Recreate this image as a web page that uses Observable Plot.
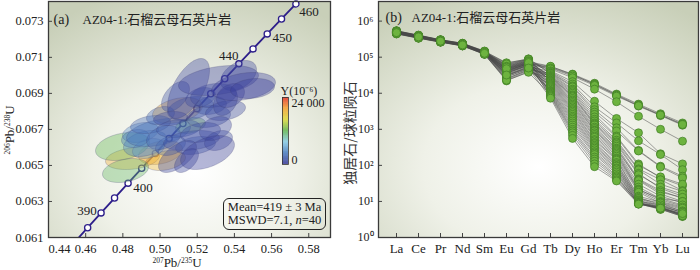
<!DOCTYPE html>
<html><head><meta charset="utf-8">
<script src="https://cdn.jsdelivr.net/npm/d3@7"></script>
<script src="https://cdn.jsdelivr.net/npm/@observablehq/plot@0.6"></script>
<style>
body{margin:0;background:#fff;}
#wrap{position:relative;width:700px;height:270px;overflow:hidden;font-family:"Liberation Serif","Noto Sans CJK SC",serif;color:#222}
#wrap svg{overflow:visible}
.abs{position:absolute;white-space:nowrap}
.rot{transform:translate(-50%,-50%) rotate(-90deg)}
.ctr{transform:translate(-50%,-50%)}
.sp{font-size:7.5px;position:relative;top:-4px}
</style></head><body>
<svg width="0" height="0" style="position:absolute">
<defs>
<radialGradient id="bgL" cx="0.52" cy="0.72" r="0.8">
<stop offset="0" stop-color="#ffffff"/><stop offset="0.45" stop-color="#eff1e8"/><stop offset="1" stop-color="#c8cfb8"/>
</radialGradient>
<radialGradient id="bgR" cx="0.5" cy="0.7" r="0.8">
<stop offset="0" stop-color="#ffffff"/><stop offset="0.45" stop-color="#eff1e8"/><stop offset="1" stop-color="#c8cfb8"/>
</radialGradient>
</defs>
</svg>
<div id="wrap">
<div id="left" class="abs" style="left:0;top:0"></div>
<div id="right" class="abs" style="left:350px;top:0"></div>
<div id="cbar" class="abs" style="left:278px;top:80px"></div>
<div class="abs rot" style="left:10px;top:130px;font-size:13px"><span class="sp">206</span>Pb/<span class="sp">238</span>U</div>
<div class="abs ctr" style="left:177px;top:263px;font-size:13px"><span class="sp">207</span>Pb/<span class="sp">235</span>U</div>
<div class="abs rot" style="left:349px;top:133px;font-size:14px;font-family:'Noto Sans CJK SC';color:#333">独居石/球粒陨石</div>
<div class="abs" style="left:223px;top:198px;width:103px;height:32px;box-sizing:border-box;border:1.3px solid #222;border-radius:6px;text-align:center;font-size:12.5px;line-height:13px;padding-top:2px">
<div style="height:13px">Mean=419 ± 3 Ma</div><div style="height:13px">MSWD=7.1, <i>n</i>=40</div></div>
</div>
<script>
// ---------- Panel (a): U-Pb concordia ----------
const concAge = [380,385,390,395,400,405,410,415,420,425,430,435,440,445,450,455,460];
const concX = [0.45389,0.46107,0.46828,0.47553,0.48281,0.49013,0.49749,0.50488,0.51231,0.51978,0.52728,0.53482,0.54239,0.55001,0.55766,0.56535,0.57308];
const concY = [0.060720,0.061543,0.062366,0.063191,0.064016,0.064841,0.065668,0.066494,0.067322,0.068150,0.068979,0.069808,0.070638,0.071469,0.072301,0.073132,0.073965];
const ageLabels = [460,450,440,400,390];

const ellX  = [0.51531,0.53145,0.54490,0.54221,0.52876,0.51638,0.52607,0.53521,0.50939,0.50563,0.49917,0.51638,0.50186,0.51692,0.52553,0.50939,0.49218,0.47981,0.48519,0.48142,0.50025,0.50294,0.49487,0.48949,0.52176,0.50993,0.52983,0.53521,0.52176,0.50832,0.54974,0.51908,0.49379,0.50563,0.51423,0.53790,0.52714,0.48680,0.53145,0.50025];
const ellSX = [0.01130,0.02152,0.01721,0.00968,0.01237,0.01237,0.01183,0.00646,0.01345,0.00914,0.01721,0.00807,0.00914,0.01506,0.01452,0.01022,0.01183,0.01452,0.01452,0.01237,0.01183,0.01076,0.01076,0.00968,0.01076,0.01183,0.00861,0.01076,0.00807,0.00753,0.01183,0.01076,0.00861,0.00807,0.00646,0.00753,0.00861,0.00753,0.00753,0.00753];
const ellY  = [0.069271,0.069715,0.069382,0.069993,0.068882,0.068161,0.067717,0.068549,0.068050,0.067606,0.066829,0.067217,0.066551,0.066384,0.065718,0.065496,0.066218,0.066051,0.065385,0.064719,0.065718,0.065274,0.067273,0.066829,0.066829,0.067051,0.067051,0.068050,0.068771,0.068827,0.069271,0.066107,0.065940,0.066107,0.065274,0.068882,0.068327,0.066495,0.066384,0.067772];
const ellSY = [0.001665,0.000833,0.000777,0.000833,0.000666,0.000666,0.000611,0.000777,0.000722,0.000389,0.000777,0.000444,0.000666,0.000555,0.000944,0.000888,0.000722,0.000777,0.000611,0.000666,0.000666,0.000555,0.000500,0.000555,0.000555,0.000500,0.000666,0.000555,0.000555,0.000833,0.000555,0.000500,0.000555,0.000555,0.000666,0.000666,0.000500,0.000500,0.000555,0.000500];
const ellRho = [0.6,0.35,0.3,0.4,0.2,0.3,0.2,0.3,0.35,0.2,0.4,0.3,0.3,0.3,0.45,0.6,0.3,0.3,0.25,0.3,0.3,0.3,0.3,0.3,0.3,0.2,0.3,0.3,0.3,0.5,0.2,0.3,0.3,0.3,0.5,0.3,0.2,0.2,0.3,0.3];
const ellYppm = [800,600,500,900,1200,2000,1500,700,19500,1000,3500,12500,2500,1800,400,900,4500,12000,19000,11500,19500,18500,3000,5000,1300,2200,800,1100,1400,1600,300,2600,6000,3200,700,600,1900,4000,1000,2800];

const xTicksL = [0.44,0.46,0.48,0.50,0.52,0.54,0.56,0.58];
const yTicksL = [0.061,0.063,0.065,0.067,0.069,0.071,0.073];
const cbarDomain = [0,4000,8000,12000,16000,20000,24000];
const cbarColors = ["#3a3a98","#4a7cc0","#88cbe6","#62b552","#dcd93c","#f4a232","#e3332a"];

// ---------- Panel (b): REE ----------
const elements = ["La","Ce","Pr","Nd","Sm","Eu","Gd","Tb","Dy","Ho","Er","Tm","Yb","Lu"];
const La = [520000,470000,540000,490000,460000,500000,480000,510000,450000,530000,470000,490000,500000,460000,520000,480000,440000,510000,470000,500000,490000,530000,460000,480000,510000,450000,500000,470000,520000,490000,460000,500000,480000,540000,470000,510000,450000,490000,500000,480000];
const Ce = [390000,360000,400000,370000,350000,380000,370000,390000,340000,400000,360000,375000,385000,350000,395000,365000,335000,390000,360000,380000,370000,405000,350000,365000,390000,345000,380000,360000,395000,375000,350000,380000,365000,410000,360000,390000,340000,375000,380000,365000];
const Pr = [290000,280000,300000,280000,270000,285000,280000,295000,265000,300000,275000,285000,290000,270000,295000,280000,260000,290000,275000,285000,280000,305000,270000,280000,290000,265000,285000,275000,295000,285000,270000,285000,280000,305000,275000,290000,262000,285000,288000,278000];
const Nd = [230000,220000,240000,222000,212000,226000,220000,232000,208000,238000,216000,224000,228000,212000,234000,220000,205000,230000,216000,225000,220000,242000,212000,220000,230000,208000,226000,216000,234000,224000,212000,226000,220000,244000,216000,230000,206000,224000,228000,218000];
const Sm = [140000,130000,142000,132000,125000,136000,130000,138000,122000,144000,128000,134000,136000,126000,140000,130000,120000,138000,128000,134000,130000,146000,126000,130000,138000,122000,134000,128000,140000,134000,126000,134000,130000,148000,128000,138000,120000,132000,136000,128000];
const Eu = [45000,42000,50000,40000,35000,60000,30000,55000,25000,68000,38000,48000,33000,28000,52000,44000,22000,62000,36000,41000,47000,70000,26000,39000,58000,24000,43000,31000,65000,50000,29000,46000,37000,56000,34000,53000,23000,40000,48000,32000];
const Gd = [70000,66000,75000,68000,62000,85000,55000,80000,45000,90000,60000,72000,52000,48000,78000,65000,40000,86000,58000,64000,70000,88000,44000,60000,82000,42000,66000,50000,87000,74000,47000,68000,57000,80000,54000,76000,38000,62000,71000,50000];
const Tb = [55000,52000,56000,50000,47000,42000,40000,38000,36000,35000,33000,31000,30000,29000,28000,27000,26000,25000,24000,23000,22000,21000,20000,19000,18000,17000,16000,15000,14000,13000,12000,11500,11000,10500,10000,9500,9000,8500,8000,7300];
const Dy = [34000,32000,33000,30000,27000,21000,18000,16000,15000,13000,12000,11000,10000,9000,8500,8000,7200,6500,6000,5500,5000,4600,4200,3800,3500,3200,2900,2600,2300,2100,1900,1700,1500,1300,1150,1000,900,800,680,560];
const Ho = [19000,18000,17500,16500,13000,6000,4200,3500,3000,2600,2200,1900,1700,1500,1400,1300,1150,1050,950,900,800,720,650,600,520,480,430,400,360,330,300,270,240,220,200,170,150,130,110,92];
const Er = [9500,9000,8800,8300,5800,2000,1500,1100,900,650,600,500,450,420,380,340,300,280,260,240,220,200,180,160,150,140,120,110,100,95,85,80,72,65,58,52,48,44,40,37];
const Tm = [5000,4700,4400,4500,2300,800,480,260,250,110,100,80,75,60,55,42,40,38,30,25,22,21,20,18,14,13,12,12,11,10.5,10,9.5,9,8.8,9.2,8.5,8.7,9,8.6,8.4];
const Yb = [2700,2500,2400,2500,1000,210,200,95,90,45,48,40,30,23,25,20,18,16,14,12,11,12,10,9,9.5,8,7.5,9,7,6.5,8,6.2,7,6.8,7.2,6.6,6,6.4,6.2,6.5];
const Lu = [1500,1400,1300,1350,470,110,76,50,45,27,30,20,19,14,16,12,13,10,9,10,7.5,8,7,6,6.5,5.5,5,5.2,4.5,4.2,4.8,3.8,4,4.4,5,4.1,3.9,4.3,4,4.6];
const yTicksR = [1,10,100,1000,10000,100000,1000000];

// ---------- build tables ----------
const conc = concAge.map((a,i)=>({age:a,x:concX[i],y:concY[i]}));
const order = d3.range(ellX.length).sort((a,b)=>ellYppm[b]-ellYppm[a]);
const ellRows = [];
const N = 64;
order.forEach(i=>{
  const r = ellRho[i], k = Math.sqrt(1-r*r);
  for(let j=0;j<N;j++){
    const t = 2*Math.PI*j/N;
    ellRows.push({id:i, Y:ellYppm[i], x:ellX[i]+ellSX[i]*Math.cos(t), y:ellY[i]+ellSY[i]*(r*Math.cos(t)+k*Math.sin(t))});
  }
});
const cols = {La,Ce,Pr,Nd,Sm,Eu,Gd,Tb,Dy,Ho,Er,Tm,Yb,Lu};
const ree = [];
for(let s=0;s<La.length;s++) elements.forEach(el=>ree.push({s, el, v:cols[el][s]}));

const font = {fontFamily:"Liberation Serif, Noto Sans CJK SC, serif", fontSize:"13px", background:"transparent", color:"#222"};
const colorScale = {type:"linear", domain:cbarDomain, range:cbarColors};
const navy = "#2d1e8a";
const labOff = {460:[13,8],450:[15,4],440:[-10,-8],400:[15,5],390:[-14,-2]};
const titleText = "AZ04-1:石榴云母石英片岩";

const left = Plot.plot({
  width:350, height:270, marginLeft:48, marginRight:20, marginTop:1, marginBottom:33,
  style:font,
  x:{domain:[0.44,0.5917]},
  y:{domain:[0.061,0.0741]},
  color:colorScale,
  marks:[
    Plot.frame({fill:"url(#bgL)"}),
    Plot.line(conc,{x:"x",y:"y",stroke:navy,strokeWidth:1.8,clip:true}),
    Plot.dot(conc.filter(d=>d.age>=385),{x:"x",y:"y",r:3.1,fill:"white",stroke:navy,strokeWidth:1.3}),
    Plot.line(ellRows,{x:"x",y:"y",z:"id",fill:"Y",fillOpacity:0.38,stroke:"#3a3a70",strokeOpacity:0.4,strokeWidth:0.6,curve:"linear-closed"}),
    ...ageLabels.map(a=>Plot.text(conc.filter(d=>d.age===a),{x:"x",y:"y",text:d=>String(d.age),dx:labOff[a][0],dy:labOff[a][1],fontSize:13,fill:"#222"})),
    Plot.text(["(a)"],{frameAnchor:"top-left",text:d=>d,dx:5,dy:13,textAnchor:"start",fontSize:14,fill:"#222"}),
    Plot.text([titleText],{frameAnchor:"top-left",text:d=>d,dx:34,dy:13,textAnchor:"start",fontSize:13,fill:"#222"}),
    Plot.axisX({ticks:xTicksL.slice(1),tickSize:0,tickPadding:7,tickFormat:d3.format(".2f"),fontSize:12.5,label:null}),
    Plot.axisX({ticks:[0.44],tickSize:0,tickPadding:7,tickFormat:d3.format(".2f"),textAnchor:"start",fontSize:12.5,label:null}),
    Plot.axisX({ticks:xTicksL,tickSize:-4,tickFormat:()=>"",label:null,stroke:"#444"}),
    Plot.axisY({ticks:yTicksL,tickSize:0,tickPadding:5,tickFormat:d3.format(".3f"),fontSize:12.5,label:null}),
    Plot.axisY({ticks:yTicksL,tickSize:-4,tickFormat:()=>"",label:null,stroke:"#444"}),
    Plot.frame({stroke:"#3a3a3a",strokeWidth:1.3})
  ]
});
document.getElementById("left").append(left);

// colour bar
const cStops = d3.range(0,24000,200);
const cbar = Plot.plot({
  width:55, height:90, marginLeft:4, marginRight:45, marginTop:17, marginBottom:6,
  style:font,
  x:{domain:[0,1],axis:null},
  y:{domain:[0,24000],axis:null},
  color:colorScale,
  marks:[
    Plot.rect(cStops,{x1:0,x2:1,y1:d=>d,y2:d=>Math.min(24000,d+260),fill:d=>d+100}),
    Plot.frame({stroke:"#333",strokeWidth:0.8}),
    Plot.text([24000],{x:1,y:d=>d,text:()=>"24 000",dx:3,dy:6,textAnchor:"start",fontSize:12,fill:"#222"}),
    Plot.text([0],{x:1,y:d=>d,text:()=>"0",dx:3,dy:-4,textAnchor:"start",fontSize:12,fill:"#222"}),
    Plot.text(["Y(10⁻⁶)"],{frameAnchor:"top-left",text:d=>d,dx:-2,dy:-11,textAnchor:"start",fontSize:12,fill:"#222"})
  ]
});
document.getElementById("cbar").append(cbar);

// right panel
const sup = ["⁰","¹","²","³","⁴","⁵","⁶"];
const right = Plot.plot({
  width:350, height:270, marginLeft:28, marginRight:2, marginTop:1, marginBottom:33,
  style:font,
  x:{type:"point",domain:elements,padding:0.47,align:0.54},
  y:{type:"log",domain:[1,3.5e6]},
  marks:[
    Plot.frame({fill:"url(#bgR)"}),
    Plot.line(ree,{x:"el",y:"v",z:"s",stroke:"#4a4a4a",strokeWidth:0.6,strokeOpacity:0.85}),
    Plot.dot(ree,{x:"el",y:"v",r:4,fill:"#6db33f",stroke:"#3f7c24",strokeWidth:0.7}),
    Plot.text(["(b)"],{frameAnchor:"top-left",text:d=>d,dx:7,dy:11,textAnchor:"start",fontSize:14,fill:"#222"}),
    Plot.text([titleText],{frameAnchor:"top-left",text:d=>d,dx:33,dy:11,textAnchor:"start",fontSize:13,fill:"#222"}),
    Plot.axisX({tickSize:0,tickPadding:6,fontSize:13,label:null}),
    Plot.axisX({tickSize:-4,tickFormat:()=>"",label:null,stroke:"#444"}),
    Plot.axisY({ticks:yTicksR,tickSize:0,tickPadding:5,tickFormat:d=>"10"+sup[Math.round(Math.log10(d))],fontSize:12,label:null}),
    Plot.axisY({ticks:yTicksR,tickSize:-4,tickFormat:()=>"",label:null,stroke:"#444"}),
    Plot.frame({stroke:"#3a3a3a",strokeWidth:1.3})
  ]
});
document.getElementById("right").append(right);
</script>
</body></html>
